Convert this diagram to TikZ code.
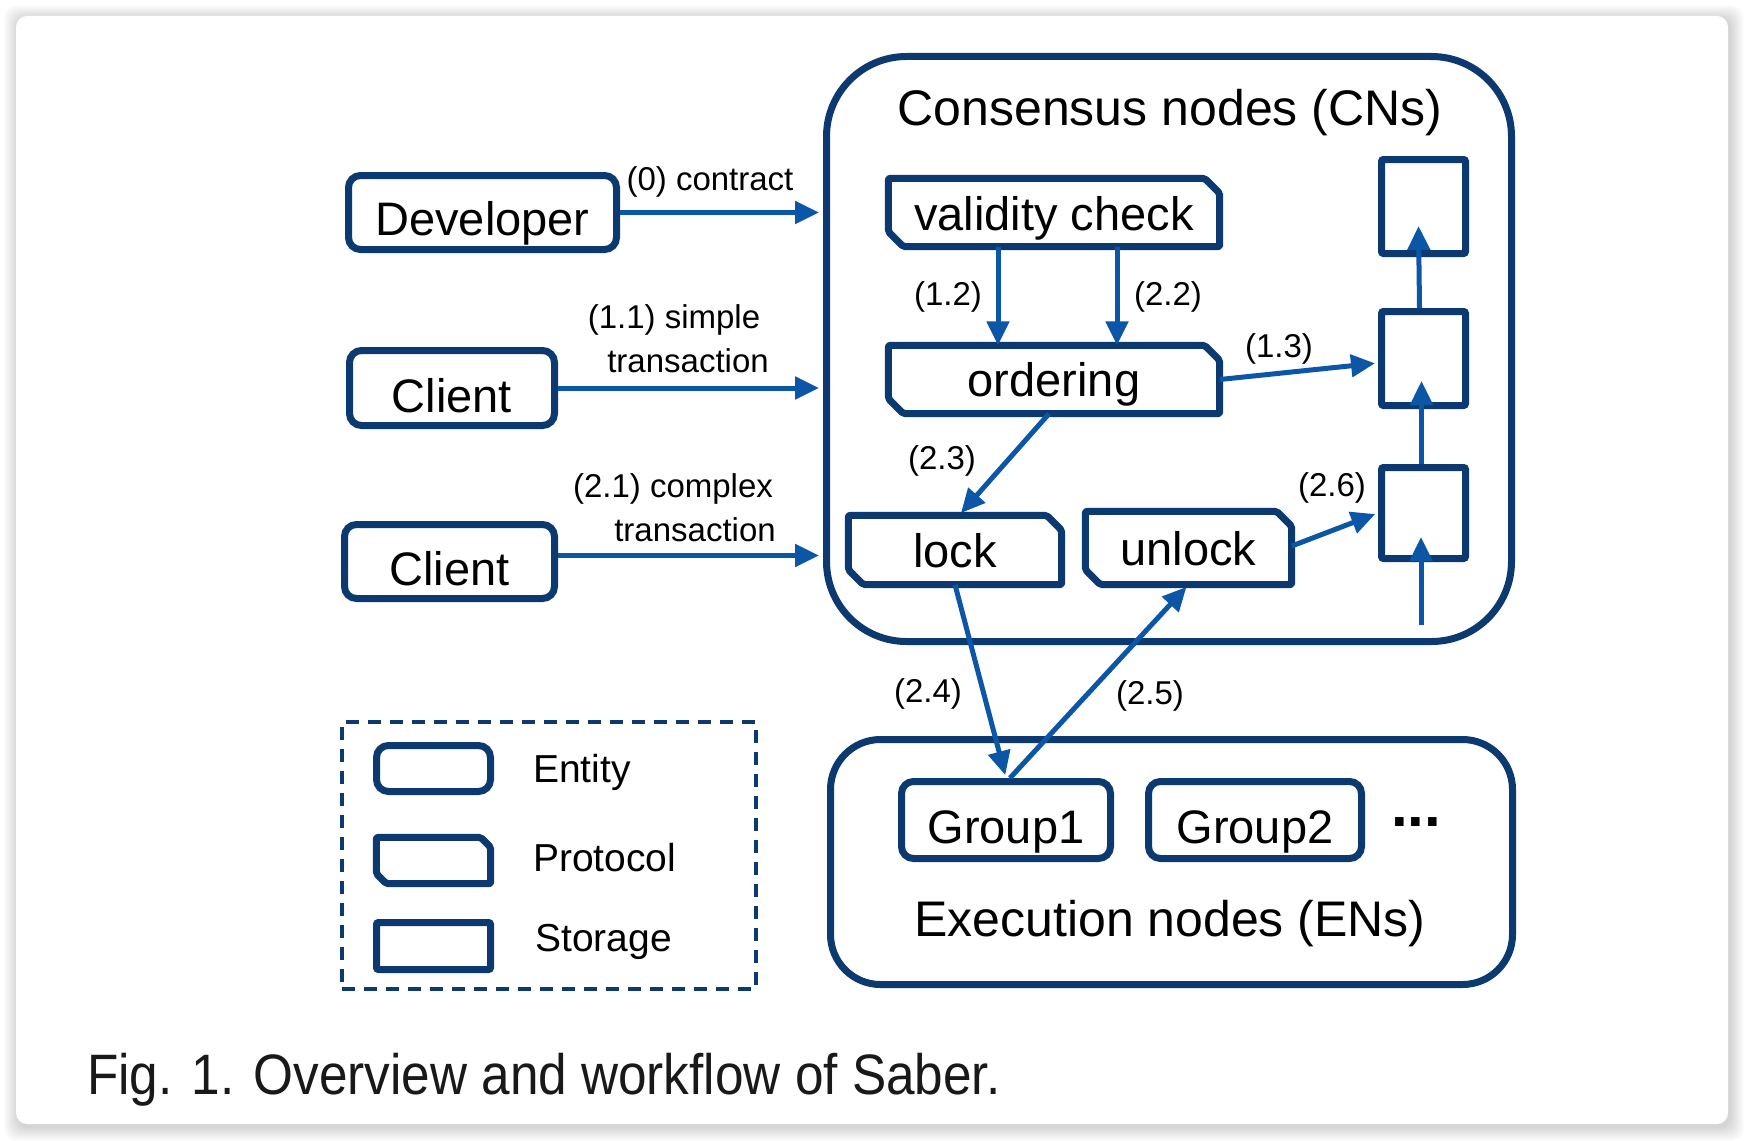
\documentclass[tikz,border=0pt]{standalone}
\usepackage{fontspec}
\setmainfont{Liberation Sans}
\usetikzlibrary{arrows.meta,calc}
\definecolor{bdr}{RGB}{12,58,112}
\definecolor{arrc}{RGB}{12,86,168}
\definecolor{capc}{RGB}{25,25,25}
\newcommand\protopath[1]{\draw[protoline] (#1.north west) -- ([xshift=-15pt]#1.north east) -- ([yshift=-15pt]#1.north east) -- (#1.south east) -- ([xshift=15pt]#1.south west) -- ([yshift=15pt]#1.south west) -- cycle;}
\begin{document}
\begin{tikzpicture}[x=1pt,y=-1pt,
  big/.style={font=\fontsize{47}{56}\selectfont,text depth=0pt},
  box/.style={draw=bdr,line width=7pt,inner sep=0pt,big},
  entity/.style={box,rounded corners=12pt},
  storage/.style={box,rounded corners=2pt},
  proto/.style={inner sep=0pt,big},
  protoline/.style={draw=bdr,line width=7pt,line join=round,rounded corners=2pt},
  arr/.style={draw=arrc,line width=5pt,-{Triangle[length=24pt,width=22pt]},shorten >=3pt},
  lbl/.style={font=\fontsize{33}{40}\selectfont,inner sep=0pt},
  leg/.style={font=\fontsize{39}{46}\selectfont,inner sep=0pt,anchor=west},
  title/.style={font=\fontsize{50}{60}\selectfont,inner sep=0pt}]
\useasboundingbox (0,0) rectangle (1744,1140);
\fill[white] (0,0) rectangle (1744,1140);
\foreach \i in {1,...,14}{
  \fill[black,opacity=0.011,rounded corners=12pt] (16-\i+2,16-\i+3) rectangle (1728+\i+2,1124+\i+3);
}
\fill[white,rounded corners=11pt] (16,16) rectangle (1728,1124);

% Consensus nodes
\node[draw=bdr,line width=7pt,rounded corners=80pt,minimum width=685pt,minimum height=585pt,inner sep=0pt] (cn) at (1169,349) {};
\node[title] (cnt) at (1170,112.5) {Consensus nodes (CNs)};

\node[proto,text height=35pt,minimum width=331pt,minimum height=68pt] (vc) at (1054,212.5) {validity check};
\protopath{vc}
\node[proto,text height=33pt,minimum width=331pt,minimum height=68pt] (ord) at (1054,379.5) {ordering};
\protopath{ord}
\node[proto,text height=34pt,minimum width=213pt,minimum height=69pt] (lock) at (955,550) {lock};
\protopath{lock}
\node[proto,text height=34pt,minimum width=206pt,minimum height=73pt] (unlock) at (1188.5,548) {unlock};
\protopath{unlock}

\node[storage,minimum width=84pt,minimum height=94pt] (s1) at (1423.5,206.5) {};
\node[storage,minimum width=84pt,minimum height=94pt] (s2) at (1423.5,358.5) {};
\node[storage,minimum width=84pt,minimum height=91pt] (s3) at (1423.5,513) {};
\coordinate (sin) at (1421,625);
\coordinate (sintip) at (1421,537);

% Execution nodes
\node[draw=bdr,line width=7pt,rounded corners=50pt,minimum width=682pt,minimum height=245pt,inner sep=0pt] (en) at (1171.5,862) {};
\node[entity,text height=46pt,minimum width=209pt,minimum height=77pt] (g1) at (1006,820) {Group1};
\node[entity,text height=46pt,minimum width=213pt,minimum height=77pt] (g2) at (1255,820) {Group2};
\node[font=\fontsize{60}{70}\bfseries\selectfont,inner sep=0pt,anchor=base] (dots) at (1416,826) {...};
\node[title] (ent) at (1170,923.5) {Execution nodes (ENs)};

% Entities
\node[entity,text height=46pt,minimum width=268pt,minimum height=74pt] (dev) at (482.5,212.5) {Developer};
\node[entity,text height=48pt,minimum width=205pt,minimum height=75pt] (c1) at (452,388) {Client};
\node[entity,text height=48pt,minimum width=210pt,minimum height=74pt] (c2) at (449.5,561.5) {Client};

% Arrows into CNs
\draw[arr,shorten >=4pt] (dev.east) -- (dev.east -| cn.west);
\draw[arr,shorten >=4pt] (c1.east) -- (c1.east -| cn.west);
\draw[arr,shorten >=4pt] ([yshift=6pt]c2.east) -- ([yshift=6pt]c2.east -| cn.west);
\node[lbl] (l0) at (710,182) {(0) contract};
\node[lbl] (l11a) at (674,320) {(1.1) simple};
\node[lbl] (l11b) at (688,361) {transaction};
\node[lbl] (l21a) at (673,489) {(2.1) complex};
\node[lbl] (l21b) at (695,530) {transaction};

% Internal arrows
\draw[arr,shorten >=0pt] ([xshift=-56pt]vc.south) -- ([xshift=-56pt]ord.north);
\draw[arr,shorten >=0pt] ([xshift=63pt]vc.south) -- ([xshift=63pt]ord.north);
\node[lbl] (l12) at (948,297) {(1.2)};
\node[lbl] (l22) at (1168,297) {(2.2)};
\draw[arr] (ord.east) -- ([yshift=-4.5pt]s2.west);
\node[lbl] (l13) at (1279,349) {(1.3)};
\draw[arr] ([xshift=-5pt]ord.south) -- ([xshift=4pt]lock.north);
\node[lbl] (l23) at (942,461) {(2.3)};
\draw[arr] (lock.south) -- (g1.north);
\node[lbl] (l24) at (928,694) {(2.4)};
\draw[arr] ([xshift=4pt]g1.north) -- (unlock.south);
\node[lbl] (l25) at (1150,696) {(2.5)};
\draw[arr] ([yshift=2pt]unlock.east) -- (s3.west);
\node[lbl] (l26) at (1332,488) {(2.6)};

\draw[arr,shorten >=0pt] ([xshift=-4pt]s2.north) -- ([xshift=-5pt,yshift=31pt]s1.south);
\draw[arr,shorten >=0pt] ([xshift=-2pt]s3.north) -- ([xshift=-2pt,yshift=28pt]s2.south);
\draw[arr,shorten >=0pt] (sin) -- (sintip);

% Legend
\node[draw=bdr,line width=3.5pt,dash pattern=on 13pt off 9pt,minimum width=414pt,minimum height=267pt,inner sep=0pt] (legend) at (549,855.5) {};
\node[entity,line width=7pt,minimum width=114pt,minimum height=46pt] (le) at (433.5,768.5) {};
\node[proto,minimum width=114pt,minimum height=46pt] (lp) at (433.5,860.5) {};
\draw[protoline] (lp.north west) -- ([xshift=-10pt]lp.north east) -- ([yshift=-10pt]lp.north east) -- (lp.south east) -- ([xshift=10pt]lp.south west) -- ([yshift=10pt]lp.south west) -- cycle;
\node[storage,minimum width=114pt,minimum height=47pt] (ls) at (433.5,946) {};
\node[leg] (lte) at (533,772) {Entity};
\node[leg] (ltp) at (533,858) {Protocol};
\node[leg] (lts) at (535,942) {Storage};

% Caption
\node[inner sep=0pt,anchor=base west,text=capc,font=\fontsize{57}{66}\selectfont] (cap) at (87,1094) {\scalebox{0.9}[1]{Fig. 1. Overview and workflow of Saber.}};
\end{tikzpicture}
\end{document}
